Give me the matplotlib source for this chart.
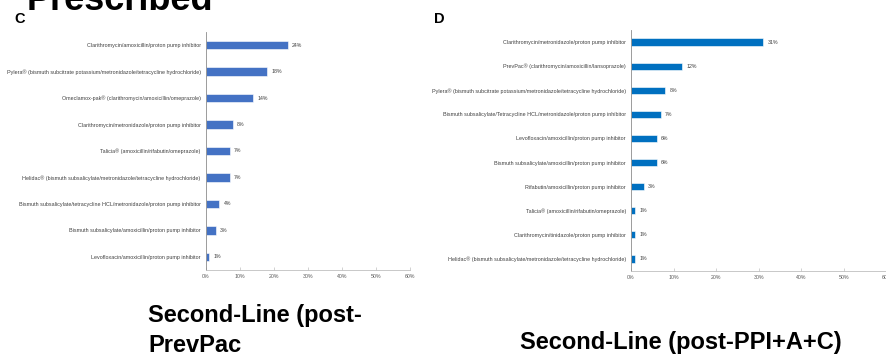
import matplotlib
matplotlib.use("Agg")
import matplotlib.pyplot as plt
from matplotlib.ticker import FuncFormatter

plt.rcParams['font.family'] = ['Liberation Sans', 'DejaVu Sans']

# ---- Data ----
labels_c = [
    "Clarithromycin/amoxicillin/proton pump inhibitor",
    "Pylera® (bismuth subcitrate potassium/metronidazole/tetracycline hydrochloride)",
    "Omeclamox-pak® (clarithromycin/amoxicillin/omeprazole)",
    "Clarithromycin/metronidazole/proton pump inhibitor",
    "Talicia® (amoxicillin/rifabutin/omeprazole)",
    "Helidac® (bismuth subsalicylate/metronidazole/tetracycline hydrochloride)",
    "Bismuth subsalicylate/tetracycline HCL/metronidazole/proton pump inhibitor",
    "Bismuth subsalicylate/amoxicillin/proton pump inhibitor",
    "Levofloxacin/amoxicillin/proton pump inhibitor",
]
values_c = [24, 18, 14, 8, 7, 7, 4, 3, 1]

labels_d = [
    "Clarithromycin/metronidazole/proton pump inhibitor",
    "PrevPac® (clarithromycin/amoxicillin/lansoprazole)",
    "Pylera® (bismuth subcitrate potassium/metronidazole/tetracycline hydrochloride)",
    "Bismuth subsalicylate/Tetracycline HCL/metronidazole/proton pump inhibitor",
    "Levofloxacin/amoxicillin/proton pump inhibitor",
    "Bismuth subsalicylate/amoxicillin/proton pump inhibitor",
    "Rifabutin/amoxicillin/proton pump inhibitor",
    "Talicia® (amoxicillin/rifabutin/omeprazole)",
    "Clarithromycin/tinidazole/proton pump inhibitor",
    "Helidac® (bismuth subsalicylate/metronidazole/tetracycline hydrochloride)",
]
values_d = [31, 12, 8, 7, 6, 6, 3, 1, 1, 1]

x_ticks = [0, 10, 20, 30, 40, 50, 60]

W, H = 887, 363
fig = plt.figure(figsize=(W / 100, H / 100), dpi=100)


def px_axes(x0, y0, x1, y1):
    return fig.add_axes([x0 / W, 1 - y1 / H, (x1 - x0) / W, (y1 - y0) / H])


def panel(ax, labels, values, color, height):
    n = len(labels)
    ypos = list(range(n))
    bars = ax.barh(ypos, values, height=height, color=color, edgecolor='white', linewidth=0.4)
    ax.set_ylim(n - 0.5, -0.5)
    ax.set_xlim(0, 60)
    ax.set_yticks(ypos)
    ax.set_yticklabels(labels, fontsize=3.85, color='#404040')
    ax.set_xticks(x_ticks)
    ax.xaxis.set_major_formatter(FuncFormatter(lambda v, p: f"{int(v)}%"))
    ax.tick_params(axis='x', labelsize=3.8, labelcolor='#595959', length=2,
                   direction='in', color='#bfbfbf', width=0.5, pad=3)
    ax.tick_params(axis='y', length=0, pad=3.6)
    for s in ['top', 'right']:
        ax.spines[s].set_visible(False)
    ax.spines['left'].set_color('#8c8c8c')
    ax.spines['left'].set_linewidth(0.6)
    ax.spines['bottom'].set_color('#bfbfbf')
    ax.spines['bottom'].set_linewidth(0.6)
    ax.bar_label(bars, labels=[f"{v}%" for v in values], padding=3,
                 fontsize=3.8, color='#404040')


ax_c = px_axes(205.7, 32, 410.5, 270)
panel(ax_c, labels_c, values_c, '#4472C4', 0.32)

ax_d = px_axes(631, 30, 886.7, 271)
panel(ax_d, labels_d, values_d, '#0070C0', 0.3)

fig.text(27 / W, 1 - 10 / H, "Prescribed", fontsize=26, fontweight='bold',
         va='baseline', ha='left', color='black')
fig.text(14 / W, 1 - 23 / H, "C", fontsize=10.5, fontweight='bold',
         va='baseline', ha='left')
fig.text(434 / W, 1 - 23 / H, "D", fontsize=10.5, fontweight='bold',
         va='baseline', ha='left')

fig.text(148 / W, 1 - 322 / H, "Second-Line (post-", fontsize=17, fontweight='bold',
         va='baseline', ha='left')
fig.text(148 / W, 1 - 352 / H, "PrevPac", fontsize=17, fontweight='bold',
         va='baseline', ha='left')
fig.text(520 / W, 1 - 349 / H, "Second-Line (post-PPI+A+C)", fontsize=17,
         fontweight='bold', va='baseline', ha='left')

fig.savefig("out.png", dpi=100)
